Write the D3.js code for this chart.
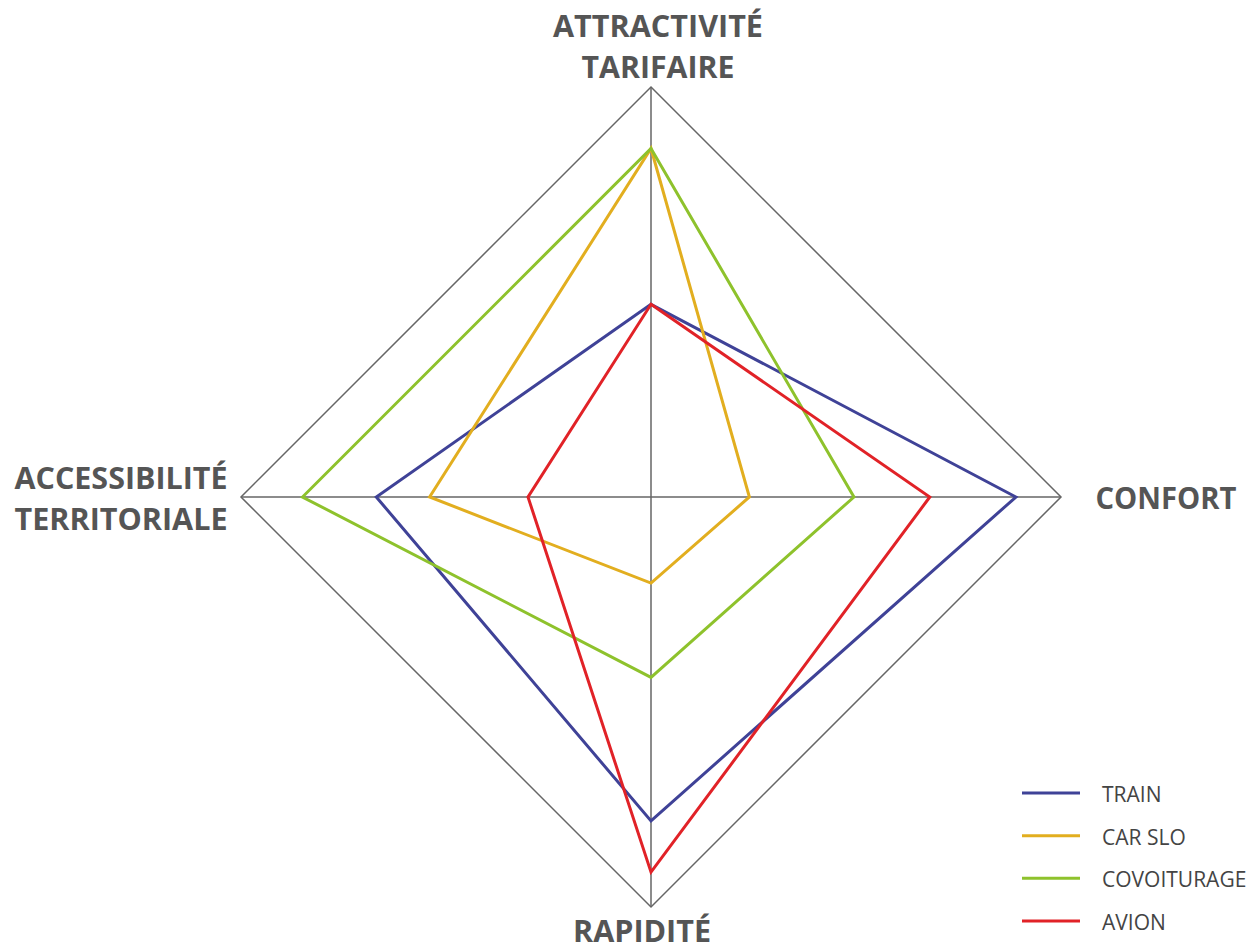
<!DOCTYPE html>
<html><head><meta charset="utf-8">
<script src="https://cdn.jsdelivr.net/npm/d3@7"></script>
<style>body{margin:0;background:#fff}svg{display:block}</style>
</head><body><svg id="c" width="1260" height="950"></svg>
<script>
const axes = ["ATTRACTIVITÉ TARIFAIRE", "CONFORT", "RAPIDITÉ", "ACCESSIBILITÉ TERRITORIALE"];
const seriesNames = ["TRAIN", "CAR SLO", "COVOITURAGE", "AVION"];
const seriesColors = ["#3f4297", "#e2ae1f", "#8ec22c", "#e12227"];
const train = [4.7, 8.9, 7.9, 6.7];
const carSlo = [8.5, 2.4, 2.1, 5.4];
const covoiturage = [8.5, 4.95, 4.4, 8.5];
const avion = [4.7, 6.8, 9.15, 3.0];
const values = [train, carSlo, covoiturage, avion];
const maxValue = 10;

const svg = d3.select("#c");
const cx = 651, cy = 497, R = 410;
const r = d3.scaleLinear().domain([0, maxValue]).range([0, R]);
const angle = i => -Math.PI/2 + i * Math.PI/2;
const pt = (i, v) => [cx + r(v)*Math.cos(angle(i)), cy + r(v)*Math.sin(angle(i))];

// grid
const g = svg.append("g");
g.append("path")
  .attr("d", d3.line()(axes.map((a,i)=>pt(i,maxValue))) + "Z")
  .attr("fill","none").attr("stroke","#666").attr("stroke-width",1.5);
axes.forEach((a,i)=>{
  const [x,y]=pt(i,maxValue);
  g.append("line").attr("x1",cx).attr("y1",cy).attr("x2",x).attr("y2",y)
   .attr("stroke","#666").attr("stroke-width",1.5);
});

// series
values.forEach((vals,s)=>{
  svg.append("path")
    .attr("d", d3.line()(vals.map((v,i)=>pt(i,v))) + "Z")
    .attr("fill","none").attr("stroke",seriesColors[s]).attr("stroke-width",3)
    .attr("stroke-linejoin","miter");
});

// axis labels
const lab = svg.append("g").attr("font-family","'Open Sans', sans-serif")
  .attr("font-weight","bold").attr("fill","#555").attr("font-size",31);
const labelPos = [
  {lines:["ATTRACTIVITÉ","TARIFAIRE"], x:658, y:[37,78], anchor:"middle", w:[210,153]},
  {lines:["CONFORT"], x:1166, y:[509], anchor:"middle", w:[141]},
  {lines:["RAPIDITÉ"], x:642, y:[942], anchor:"middle", w:[138]},
  {lines:["ACCESSIBILITÉ","TERRITORIALE"], x:121, y:[489,530], anchor:"middle", w:[213,213]}
];
labelPos.forEach((p,i)=>{
  p.lines.forEach((t,j)=>{
    lab.append("text").attr("x",p.x).attr("y",p.y[j]).attr("text-anchor",p.anchor)
      .attr("textLength",p.w[j]).attr("lengthAdjust","spacingAndGlyphs").text(t);
  });
});

// legend
const lg = svg.append("g");
const ly = d3.scalePoint().domain(seriesNames).range([793, 921]);
seriesNames.forEach((n,s)=>{
  lg.append("line").attr("x1",1022).attr("x2",1080).attr("y1",ly(n)).attr("y2",ly(n))
    .attr("stroke",seriesColors[s]).attr("stroke-width",3);
  lg.append("text").attr("x",1102).attr("y",ly(n)+9).attr("font-family","'Open Sans', sans-serif")
    .attr("font-size",21).attr("font-weight",400).attr("fill","#444").text(n);
});
</script></body></html>
